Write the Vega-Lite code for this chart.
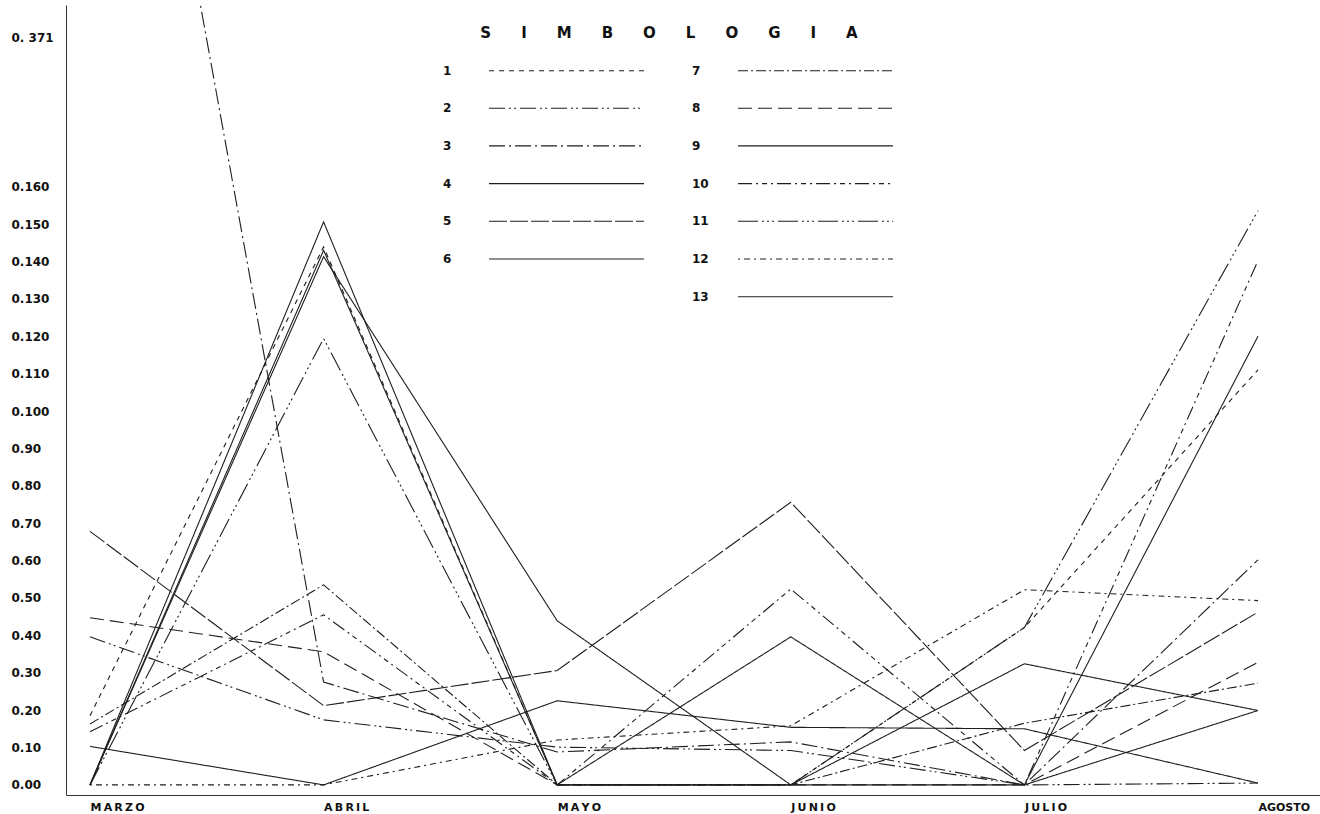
{
  "$schema": "https://vega.github.io/schema/vega-lite/v6.json",
  "width": 1254,
  "height": 790,
  "autosize": {"type": "none"},
  "padding": {"left": 66, "top": 5, "right": 0, "bottom": 19},
  "background": "white",
  "config": {"view": {"stroke": null}, "font": "DejaVu Sans"},
  "data": {"values": [
    {"serie": "1", "mes": 3, "valor": 0.0185}, {"serie": "1", "mes": 4, "valor": 0.1439}, {"serie": "1", "mes": 5, "valor": 0.0}, {"serie": "1", "mes": 6, "valor": 0.0}, {"serie": "1", "mes": 7, "valor": 0.0421}, {"serie": "1", "mes": 8, "valor": 0.111},
    {"serie": "2", "mes": 3, "valor": 0.0396}, {"serie": "2", "mes": 4, "valor": 0.0174}, {"serie": "2", "mes": 5, "valor": 0.0101}, {"serie": "2", "mes": 6, "valor": 0.0092}, {"serie": "2", "mes": 7, "valor": 0.0}, {"serie": "2", "mes": 8, "valor": 0.0005},
    {"serie": "3", "mes": 3, "valor": 0.371}, {"serie": "3", "mes": 4, "valor": 0.0275}, {"serie": "3", "mes": 5, "valor": 0.0088}, {"serie": "3", "mes": 6, "valor": 0.0115}, {"serie": "3", "mes": 7, "valor": 0.0}, {"serie": "3", "mes": 8, "valor": 0.0602},
    {"serie": "4", "mes": 3, "valor": 0.0}, {"serie": "4", "mes": 4, "valor": 0.1506}, {"serie": "4", "mes": 5, "valor": 0.0}, {"serie": "4", "mes": 6, "valor": 0.0396}, {"serie": "4", "mes": 7, "valor": 0.0}, {"serie": "4", "mes": 8, "valor": 0.12},
    {"serie": "5", "mes": 3, "valor": 0.0678}, {"serie": "5", "mes": 4, "valor": 0.0212}, {"serie": "5", "mes": 5, "valor": 0.0306}, {"serie": "5", "mes": 6, "valor": 0.0756}, {"serie": "5", "mes": 7, "valor": 0.0092}, {"serie": "5", "mes": 8, "valor": 0.0462},
    {"serie": "6", "mes": 3, "valor": 0.0}, {"serie": "6", "mes": 4, "valor": 0.1413}, {"serie": "6", "mes": 5, "valor": 0.0439}, {"serie": "6", "mes": 6, "valor": 0.0}, {"serie": "6", "mes": 7, "valor": 0.0324}, {"serie": "6", "mes": 8, "valor": 0.0199},
    {"serie": "7", "mes": 3, "valor": 0.0163}, {"serie": "7", "mes": 4, "valor": 0.0535}, {"serie": "7", "mes": 5, "valor": 0.0}, {"serie": "7", "mes": 6, "valor": 0.0}, {"serie": "7", "mes": 7, "valor": 0.0165}, {"serie": "7", "mes": 8, "valor": 0.0272},
    {"serie": "8", "mes": 3, "valor": 0.0447}, {"serie": "8", "mes": 4, "valor": 0.0356}, {"serie": "8", "mes": 5, "valor": 0.0}, {"serie": "8", "mes": 6, "valor": 0.0}, {"serie": "8", "mes": 7, "valor": 0.0}, {"serie": "8", "mes": 8, "valor": 0.0328},
    {"serie": "9", "mes": 3, "valor": 0.0}, {"serie": "9", "mes": 4, "valor": 0.143}, {"serie": "9", "mes": 5, "valor": 0.0}, {"serie": "9", "mes": 6, "valor": 0.0}, {"serie": "9", "mes": 7, "valor": 0.0}, {"serie": "9", "mes": 8, "valor": 0.0199},
    {"serie": "10", "mes": 3, "valor": 0.0142}, {"serie": "10", "mes": 4, "valor": 0.0455}, {"serie": "10", "mes": 5, "valor": 0.0}, {"serie": "10", "mes": 6, "valor": 0.0524}, {"serie": "10", "mes": 7, "valor": 0.0}, {"serie": "10", "mes": 8, "valor": 0.1402},
    {"serie": "11", "mes": 3, "valor": 0.0}, {"serie": "11", "mes": 4, "valor": 0.1194}, {"serie": "11", "mes": 5, "valor": 0.0}, {"serie": "11", "mes": 6, "valor": 0.0}, {"serie": "11", "mes": 7, "valor": 0.0421}, {"serie": "11", "mes": 8, "valor": 0.1536},
    {"serie": "12", "mes": 3, "valor": 0.0}, {"serie": "12", "mes": 4, "valor": 0.0}, {"serie": "12", "mes": 5, "valor": 0.012}, {"serie": "12", "mes": 6, "valor": 0.0158}, {"serie": "12", "mes": 7, "valor": 0.0522}, {"serie": "12", "mes": 8, "valor": 0.0493},
    {"serie": "13", "mes": 3, "valor": 0.0103}, {"serie": "13", "mes": 4, "valor": 0.0}, {"serie": "13", "mes": 5, "valor": 0.0225}, {"serie": "13", "mes": 6, "valor": 0.0154}, {"serie": "13", "mes": 7, "valor": 0.015}, {"serie": "13", "mes": 8, "valor": 0.0005}
  ]},
  "mark": {"type": "line", "clip": true, "color": "#1e1e1e", "strokeCap": "butt"},
  "encoding": {
    "x": {
      "field": "mes", "type": "quantitative",
      "scale": {"domain": [2.8973, 8.2655], "nice": false, "zero": false},
      "axis": {
        "values": [3, 4, 5, 6, 7, 8],
        "labelExpr": "['','','','M\u2009A\u2009R\u2009Z\u2009O','A\u2009B\u2009R\u2009I\u2009L','M\u2009A\u2009Y\u2009O','J\u2009U\u2009N\u2009I\u2009O','J\u2009U\u2009L\u2009I\u2009O','AGOSTO'][datum.value]",
        "labelAlign": "left", "labelBaseline": "top", "labelPadding": 6,
        "ticks": false, "tickSize": 0, "grid": false, "title": null,
        "labelFont": "DejaVu Sans", "labelFontWeight": "bold", "labelFontSize": 11, "labelColor": "#111",
        "domainColor": "#333", "domainWidth": 1,
        "labelFlush": false, "labelOverlap": false, "labelBound": false
      }
    },
    "y": {
      "field": "valor", "type": "quantitative",
      "scale": {"domain": [-0.0027, 0.2086], "nice": false, "zero": false},
      "axis": {
        "values": [0, 0.01, 0.02, 0.03, 0.04, 0.05, 0.06, 0.07, 0.08, 0.09, 0.1, 0.11, 0.12, 0.13, 0.14, 0.15, 0.16, 0.2],
        "labelExpr": "datum.value > 0.19 ? '0. 371' : (datum.value == 0 ? '0.00' : '0.' + format(datum.value * 1000, '.0f'))",
        "labelAlign": "left", "labelBaseline": "middle", "labelPadding": 55,
        "ticks": false, "tickSize": 0, "grid": false, "title": null,
        "labelFont": "DejaVu Sans", "labelFontWeight": "bold", "labelFontSize": 12, "labelColor": "#111",
        "domainColor": "#333", "domainWidth": 1,
        "labelFlush": false, "labelOverlap": false, "labelBound": false
      }
    },
    "strokeDash": {
      "field": "serie", "type": "nominal",
      "scale": {
        "domain": ["1", "2", "3", "4", "5", "6", "7", "8", "9", "10", "11", "12", "13", ""],
        "range": [[5, 5], [16, 4, 2, 3, 2, 4], [16, 4, 2, 4], [1, 0], [18, 3], [1, 0], [10, 3, 2, 3], [14, 6], [1, 0], [14, 4, 2, 4, 5, 4, 2, 4], [20, 4, 2, 3, 2, 3, 2, 4], [2, 4, 6, 4], [1, 0], [0, 1000]]
      },
      "legend": {
        "orient": "none", "legendX": 377, "legendY": 21, "padding": 0,
        "title": "S\u2003\u2003I\u2003\u2003M\u2003\u2003B\u2003\u2003O\u2003\u2003L\u2003\u2003O\u2003\u2003G\u2003\u2003I\u2003\u2003A",
        "titleFont": "DejaVu Sans", "titleFontSize": 15, "titleFontWeight": "bold", "titleColor": "#111",
        "titleAnchor": "middle", "titlePadding": 21, "titleLimit": 2000,
        "values": ["1", "2", "3", "4", "5", "6", "", "7", "8", "9", "10", "11", "12", "13"],
        "columns": 2, "columnPadding": 45, "rowPadding": 22.7,
        "symbolType": "M-10,0H10", "symbolSize": 240, "symbolStrokeWidth": 1.2, "symbolStrokeColor": "#1e1e1e",
        "symbolOffset": 115, "labelOffset": -132, "labelAlign": "left",
        "labelFont": "DejaVu Sans", "labelFontSize": 12, "labelFontWeight": "bold", "labelColor": "#111"
      }
    },
    "strokeWidth": {
      "field": "serie", "type": "ordinal",
      "scale": {
        "domain": ["1", "2", "3", "4", "5", "6", "7", "8", "9", "10", "11", "12", "13", ""],
        "range": [1.1, 1.1, 1.1, 1.1, 1.1, 1.1, 1.1, 1.1, 1.9, 1.1, 1.1, 1.1, 1.1, 1.1]
      },
      "legend": null
    },
    "order": {"field": "mes"}
  }
}
